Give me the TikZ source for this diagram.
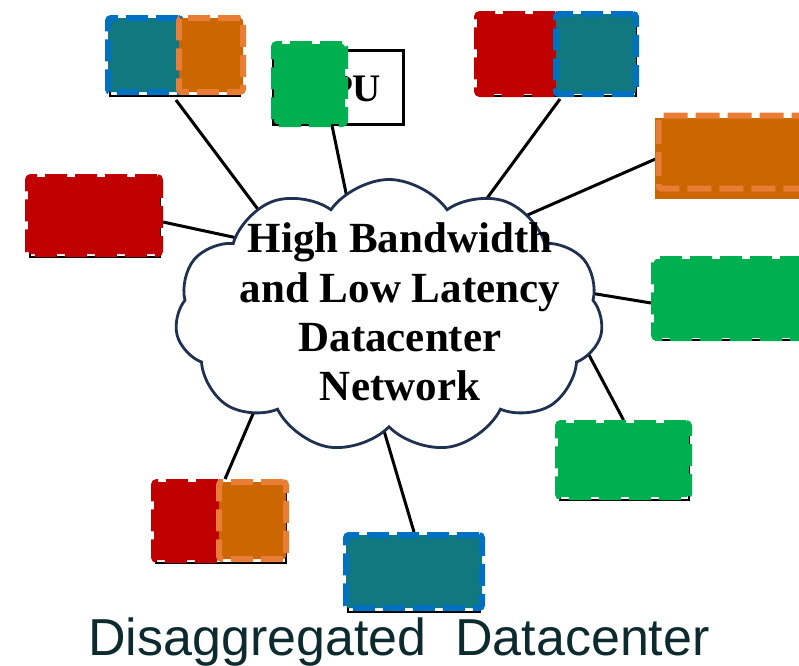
\documentclass[tikz,border=0pt]{standalone}
\usepackage{fontspec}
\usetikzlibrary{shapes.symbols,calc,backgrounds}
\newfontfamily\netfont{Liberation Serif}
\newfontfamily\capfont{Liberation Sans}
\definecolor{unitred}{HTML}{C00000}
\definecolor{unitteal}{HTML}{12787F}
\definecolor{unitblue}{HTML}{0070C0}
\definecolor{unitorange}{HTML}{CC6600}
\definecolor{unitorangeedge}{HTML}{E87D35}
\definecolor{unitgreen}{HTML}{00B050}
\definecolor{cloudedge}{HTML}{1F3050}
\definecolor{captext}{HTML}{0D2A2F}
\begin{document}
\begin{tikzpicture}[x=1pt,y=-1pt,
  unit/.style={rectangle, inner sep=0pt, rounded corners=3pt, line width=6pt,
               dash pattern=on 22pt off 8pt},
  shadowbox/.style={draw=black, line width=2.8pt},
  link/.style={draw=black, line width=3pt},
  netlabel/.style={font=\netfont\bfseries\fontsize{43}{49.3}\selectfont, align=center},
]
\useasboundingbox (0,0) rectangle (799,665);

% black outlines peeking out below the coloured units
\draw[shadowbox] (110,22) rectangle (240,96);
\draw[shadowbox] (480,17) rectangle (636,96);
\draw[shadowbox] (30,180) rectangle (160,257);
\draw[shadowbox] (656,262) rectangle (805,340);
\draw[shadowbox] (560,426) rectangle (689,500);
\draw[shadowbox] (156,486) rectangle (286,563);
\draw[shadowbox] (348,540) rectangle (480,612);

% processor box with its label
\node[draw=black, line width=3pt, fill=white, inner sep=0pt,
      minimum width=130pt, minimum height=74pt] (cpu) at (338,87) {};
\node[font=\netfont\bfseries\fontsize{39}{40}\selectfont, anchor=base] (cputext)
  at (341,101) {CPU};

% top-left pair
\node[unit, fill=unitteal, draw=unitblue, minimum width=73pt, minimum height=74pt] (A) at (144.5,55) {};
\node[unit, fill=unitorange, draw=unitorangeedge, minimum width=64pt, minimum height=74pt] (B) at (211,55) {};
% green unit over the processor box
\node[unit, fill=unitgreen, draw=unitgreen, minimum width=71pt, minimum height=80pt] (P) at (309.5,84) {};
% top-right pair
\node[unit, fill=unitred, draw=unitred, minimum width=81pt, minimum height=80pt] (C) at (517.5,54) {};
\node[unit, fill=unitteal, draw=unitblue, minimum width=80pt, minimum height=80pt] (D) at (596,54) {};
% right orange unit: fill and dashed edge slightly apart
\fill[unitorange] (655,118) rectangle (805,199);
\node[unit, draw=unitorangeedge, line width=6pt, dash pattern=on 24pt off 8pt,
      minimum width=160pt, minimum height=73pt] (E) at (738.5,152) {};
% left red unit
\node[unit, fill=unitred, draw=unitred, minimum width=132pt, minimum height=77pt] (F) at (94,215.5) {};
% right green unit
\node[unit, fill=unitgreen, draw=unitgreen, minimum width=151pt, minimum height=79pt] (G) at (729.5,298.5) {};
% lower-right green unit
\node[unit, fill=unitgreen, draw=unitgreen, minimum width=131pt, minimum height=74pt] (H) at (623.5,460) {};
% bottom-left pair
\node[unit, fill=unitred, draw=unitred, minimum width=67pt, minimum height=78pt] (I) at (187.5,521) {};
\node[unit, fill=unitorange, draw=unitorangeedge, minimum width=67pt, minimum height=77pt] (J) at (252.5,520.5) {};
% bottom teal unit
\node[unit, fill=unitteal, draw=unitblue, minimum width=136pt, minimum height=73pt] (K) at (414,571.5) {};

% the network cloud
\node[cloud, cloud puffs=11, cloud puff arc=110, cloud ignores aspect,
      draw=cloudedge, line width=2.8pt, fill=white, inner sep=0pt,
      minimum width=428pt, minimum height=273pt] (net) at (389,316) {};
\node[netlabel] (label) at (400,312) {High Bandwidth\\and Low Latency\\Datacenter\\Network};

% ends of the links, hidden under the cloud
\coordinate (n1) at (275,232);
\coordinate (n2) at (351,217);
\coordinate (n3) at (482,205);
\coordinate (n4) at (523,217);
\coordinate (n5) at (242,239);
\coordinate (n6) at (572,290);
\coordinate (n7) at (571,321);
\coordinate (n8) at (259,400);
\coordinate (n9) at (382,424);

\begin{scope}[on background layer]
  \draw[link] ($(A.south east)+(-8,5)$) -- (n1);
  \draw[link] ($(cpu.south)+(-6,0)$) -- (n2);
  \draw[link] ($(C.south east)+(-1,2)$) -- (n3);
  \draw[link] ($(E.west)+(0,7)$) -- (n4);
  \draw[link] ($(F.east)+(0,6.5)$) -- (n5);
  \draw[link] ($(G.west)+(0,4.5)$) -- (n6);
  \draw[link] (H.north) -- (n7);
  \draw[link] ($(J.north west)+(9,0)$) -- (n8);
  \draw[link] (K.north) -- (n9);
\end{scope}

% caption
\node[font=\capfont\fontsize{52}{56}\selectfont, text=captext, anchor=base] (caption)
  at (399,655) {Disaggregated\ \ Datacenter};
\end{tikzpicture}
\end{document}
